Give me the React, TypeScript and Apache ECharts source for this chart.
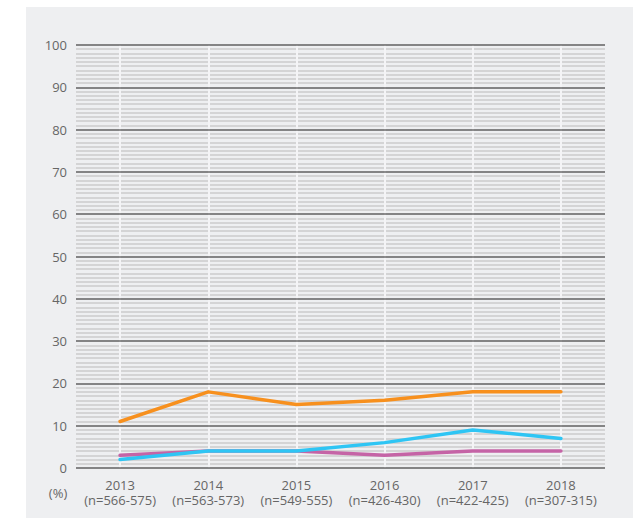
import React, { useEffect, useRef } from "react";
import * as echarts from "echarts";

const years = ["2013", "2014", "2015", "2016", "2017", "2018"];
const sampleSizes = ["n=566-575", "n=563-573", "n=549-555", "n=426-430", "n=422-425", "n=307-315"];
const orangeValues = [11, 18, 15, 16, 18, 18];
const blueValues = [2, 4, 4, 6, 9, 7];
const pinkValues = [3, 4, 4, 3, 4, 4];

const FONT = "'Open Sans', 'Noto Sans', sans-serif";

export default function App() {
  const ref = useRef<HTMLDivElement>(null);
  useEffect(() => {
    if (!ref.current) return;
    const chart = echarts.init(ref.current, undefined, { renderer: "svg" });
    const categories = years.map((y, i) => `${y}\n(${sampleSizes[i]})`);
    // half-step helper axis so vertical separators sit at category centres
    const halfSteps: string[] = [];
    for (let i = 0; i <= years.length * 2; i++) halfSteps.push(String(i));
    const mkSeries = (name: string, data: number[], color: string, z: number) => ({
      name,
      type: "line",
      data,
      xAxisIndex: 0,
      yAxisIndex: 1,
      symbol: "none",
      z,
      lineStyle: { color, width: 3.5, cap: "round", join: "round" },
      itemStyle: { color },
    });
    chart.setOption({
      animation: false,
      backgroundColor: "transparent",
      graphic: [
        {
          type: "rect",
          z: -10,
          silent: true,
          shape: { x: 26, y: 7, width: 620, height: 520 },
          style: { fill: "#eeeff1" },
        },
        {
          type: "text",
          x: 58,
          y: 493,
          style: {
            text: "(%)",
            fill: "#666",
            font: `13px ${FONT}`,
            align: "center",
            verticalAlign: "middle",
          },
        },
      ],
      grid: { left: 76, right: 28, top: 45, bottom: 50 },
      xAxis: [
        {
          type: "category",
          data: categories,
          boundaryGap: true,
          z: 1,
          axisLine: { show: false },
          axisTick: { show: false },
          axisLabel: {
            color: "#666",
            fontFamily: FONT,
            fontSize: 13,
            lineHeight: 15,
            margin: 9,
            interval: 0,
          },
          splitLine: { show: false },
        },
        {
          type: "category",
          data: halfSteps,
          boundaryGap: false,
          position: "bottom",
          z: 1,
          axisLine: { show: false },
          axisTick: { show: false },
          axisLabel: { show: false },
          splitLine: {
            show: true,
            interval: (index: number) => index % 2 === 1,
            lineStyle: { color: "#f4f4f6", width: 2 },
          },
        },
      ],
      yAxis: [
        {
          type: "value",
          min: 0,
          max: 100,
          interval: 1,
          position: "left",
          z: 0,
          axisLabel: { show: false },
          axisLine: { show: false },
          axisTick: { show: false },
          splitLine: { show: true, lineStyle: { color: "#cbcbcb", width: 1.5 } },
        },
        {
          type: "value",
          min: 0,
          max: 100,
          interval: 10,
          position: "left",
          z: 2,
          axisLine: { show: false },
          axisTick: { show: false },
          axisLabel: { color: "#666", fontFamily: FONT, fontSize: 13, margin: 9 },
          splitLine: { show: true, lineStyle: { color: "#6a6a6a", width: 1.5 } },
        },
      ],
      series: [
        mkSeries("orange", orangeValues, "#f7901e", 5),
        mkSeries("pink", pinkValues, "#c564a6", 5),
        mkSeries("blue", blueValues, "#2ec5f4", 6),
      ],
    });
    return () => chart.dispose();
  }, []);
  return (
    <div
      ref={ref}
      style={{ position: "absolute", left: 0, top: 0, width: 633, height: 518 }}
    />
  );
}
